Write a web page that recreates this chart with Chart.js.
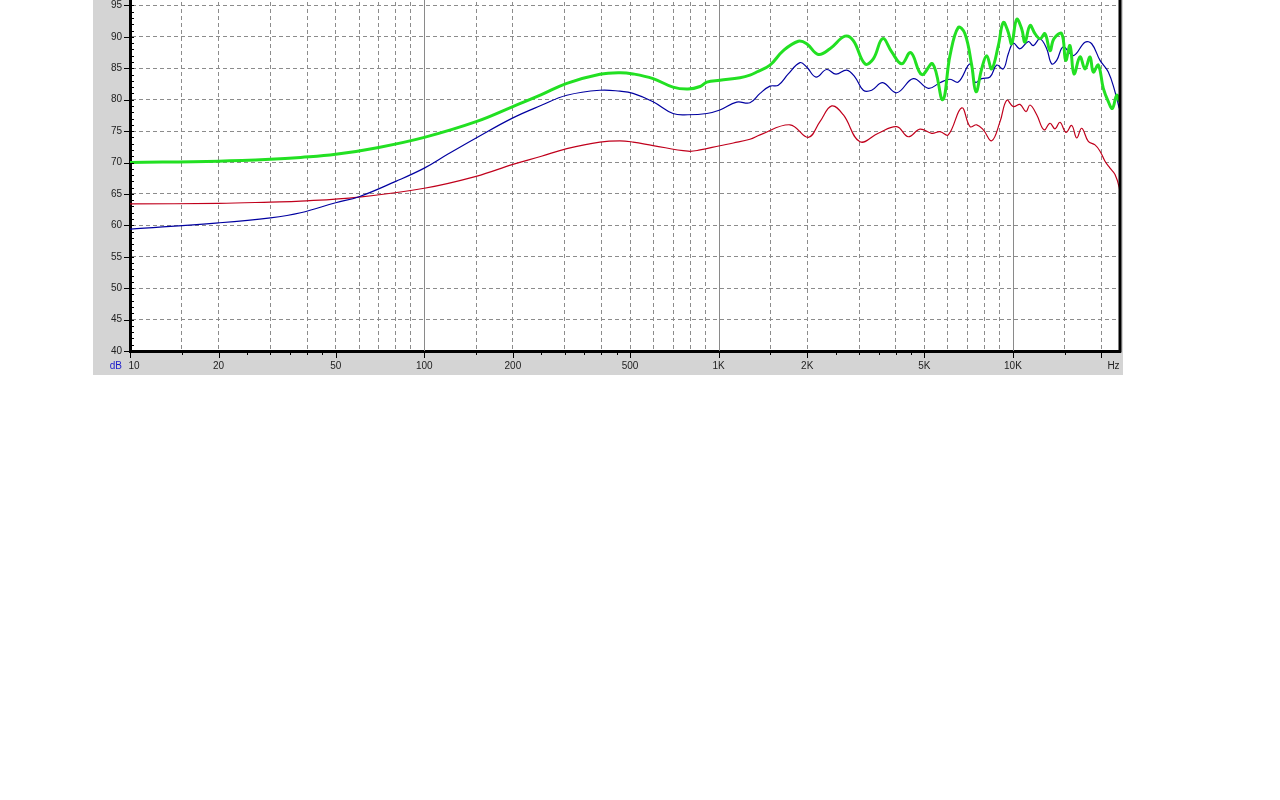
<!DOCTYPE html>
<html>
<head>
<meta charset="utf-8">
<script src="https://cdn.jsdelivr.net/npm/chart.js@4.4.1/dist/chart.umd.min.js"></script>
<style>
  html, body { margin: 0; padding: 0; background: #fff; overflow: hidden; }
  #wrap { position: absolute; left: 93px; top: -40px; width: 1030px; height: 415px; background: #d4d4d4; }
</style>
</head>
<body>
<div id="wrap"><canvas id="fr" width="1030" height="415"></canvas></div>
<script>
// frequency response readings (Hz / dB)
const greenHz = [10, 20, 30, 38, 50, 70, 100, 150, 200, 250, 305, 395, 462, 512, 599, 700, 787, 865, 912, 1010, 1182, 1278, 1347, 1495, 1659, 1866, 1992, 2182, 2390, 2688, 2869, 3144, 3355, 3610, 3874, 4190, 4495, 4899, 5340, 5773, 6112, 6523, 6873, 7244, 7492, 7834, 8147, 8472, 8922, 9277, 9647, 9906, 10302, 10713, 10993, 11430, 11887, 12361, 12855, 13367, 13792, 14648, 15114, 15631, 16129, 16904, 17579, 18281, 18759, 19507, 20286, 21095, 21768, 22527, 22988];
const greenDb = [70.0, 70.2, 70.5, 70.8, 71.3, 72.4, 74.0, 76.5, 78.9, 80.8, 82.6, 84.05, 84.3, 84.1, 83.35, 82.0, 81.7, 82.1, 82.8, 83.1, 83.5, 83.9, 84.4, 85.5, 87.8, 89.3, 88.9, 87.2, 88.1, 90.1, 89.4, 85.7, 86.5, 89.7, 87.6, 85.7, 87.5, 84.0, 85.7, 80.0, 87.0, 91.5, 90.5, 85.5, 81.25, 84.9, 87.0, 84.9, 88.6, 92.3, 90.7, 88.9, 92.8, 91.25, 89.15, 91.8, 90.5, 89.7, 90.5, 87.8, 89.7, 90.5, 86.25, 88.6, 84.1, 86.8, 84.9, 86.8, 84.4, 85.5, 81.8, 79.7, 78.6, 80.7, 79.7];

const blueHz = [10, 20, 30, 38, 50, 60, 80, 100, 120, 150, 200, 250, 305, 395, 462, 512, 599, 700, 787, 912, 1010, 1152, 1278, 1383, 1495, 1595, 1725, 1891, 1992, 2142, 2329, 2505, 2724, 2907, 3102, 3313, 3610, 4029, 4587, 5159, 5653, 6112, 6523, 7150, 7434, 7834, 8360, 8810, 9277, 9647, 10032, 10571, 11280, 11729, 12361, 13025, 13544, 14085, 14834, 16040, 17579, 18527, 19770, 21095, 22233, 22988];
const blueDb = [59.4, 60.4, 61.2, 62.0, 63.6, 64.55, 67.0, 69.1, 71.3, 73.9, 77.1, 79.1, 80.7, 81.5, 81.35, 81.0, 79.67, 77.8, 77.6, 77.8, 78.35, 79.6, 79.5, 81.0, 82.15, 82.3, 84.1, 85.9, 85.2, 83.6, 84.8, 84.05, 84.7, 83.6, 81.5, 81.5, 82.7, 81.1, 83.35, 81.8, 82.7, 83.25, 82.8, 85.7, 82.8, 83.35, 83.6, 85.5, 84.9, 87.3, 89.0, 88.1, 89.25, 88.6, 89.7, 88.1, 85.7, 86.25, 88.4, 87.0, 89.15, 88.9, 86.25, 84.4, 81.25, 78.6];

const redHz = [10, 20, 30, 38, 60, 100, 150, 200, 250, 305, 395, 462, 512, 599, 787, 865, 1010, 1122, 1278, 1383, 1748, 2017, 2210, 2423, 2652, 3023, 3488, 4029, 4412, 4834, 5298, 5653, 6031, 6698, 7150, 7534, 7932, 8472, 9042, 9526, 10032, 10571, 11080, 11430, 12047, 12755, 13367, 13901, 14454, 15149, 15842, 16473, 17131, 18039, 19011, 19770, 20558, 21380, 22233, 22988, 23116];
const redDb = [63.4, 63.5, 63.7, 63.85, 64.5, 65.9, 67.8, 69.7, 71.0, 72.2, 73.25, 73.45, 73.25, 72.7, 71.8, 72.0, 72.67, 73.1, 73.7, 74.4, 76.0, 74.0, 76.5, 79.0, 77.6, 73.3, 74.65, 75.7, 74.1, 75.3, 74.65, 74.9, 74.4, 78.7, 75.7, 76.0, 75.2, 73.45, 76.5, 79.9, 78.9, 79.25, 78.1, 79.15, 77.6, 75.2, 76.25, 75.35, 76.4, 74.8, 75.9, 73.9, 75.45, 73.35, 72.8, 71.8, 70.2, 69.1, 68.1, 66.0, 64.6];

const xMin = 10, xMax = 23116;
const yMin = 40, yMax = 100;
// labels drawn by Chart.js at their ticks; "10" and "Hz" sit beside their ticks
const xLabelValues = [20, 50, 100, 200, 500, 1000, 2000, 5000, 10000];
const xLabelTexts = ['20', '50', '100', '200', '500', '1K', '2K', '5K', '10K'];
const mantissas = [1, 1.5, 2, 2.5, 3, 3.5, 4, 4.5, 5, 6, 7, 8, 9];

const gridGray = '#8c8c8c';
const labelFont = '10px "Liberation Sans", Arial, sans-serif';

function mant(v) {
    const d = Math.pow(10, Math.floor(Math.log10(v) + 1e-9));
    return Math.round(v / d * 10) / 10;
}

const xTickValues = [];
for (let d = 10; d <= xMax; d *= 10) {
    mantissas.forEach(m => { if (m * d <= xMax) xTickValues.push(Math.round(m * d)); });
}

const toPts = (hz, db) => hz.map((f, i) => ({ x: f, y: db[i] }));

const framePlugin = {
    id: 'frame',
    beforeDraw(chart) {
        const { ctx, chartArea: a } = chart;
        ctx.save();
        ctx.fillStyle = '#fff';
        ctx.fillRect(a.left, a.top, a.right - a.left, a.bottom - a.top);
        ctx.restore();
    },
    beforeDatasetsDraw(chart) {
        const { ctx, chartArea: a, scales: { x } } = chart;
        ctx.save();
        ctx.strokeStyle = '#8a8a8a';
        ctx.lineWidth = 1;
        [100, 1000, 10000].forEach(v => {
            const px = Math.round(x.getPixelForValue(v)) + 0.5;
            ctx.beginPath();
            ctx.moveTo(px, a.top);
            ctx.lineTo(px, a.bottom);
            ctx.stroke();
        });
        ctx.restore();
    },
    afterDatasetsDraw(chart) {
        const { ctx, chartArea: a, scales: { x, y } } = chart;
        ctx.save();
        ctx.strokeStyle = '#000';
        // right frame
        ctx.lineWidth = 3;
        ctx.beginPath();
        ctx.moveTo(a.right, a.top);
        ctx.lineTo(a.right, a.bottom + 1.5);
        ctx.stroke();
        // y ticks: minor inside, major outside
        ctx.lineWidth = 1;
        for (let v = yMin; v <= yMax; v++) {
            const py = Math.round(y.getPixelForValue(v)) + 0.5;
            ctx.beginPath();
            ctx.moveTo(a.left, py);
            ctx.lineTo(a.left + 4, py);
            if (v % 5 === 0) {
                ctx.moveTo(a.left - 6, py);
                ctx.lineTo(a.left, py);
            }
            ctx.stroke();
        }
        // x ticks below axis
        xTickValues.forEach(v => {
            const m = mant(v);
            if (m > 5) return;
            const px = Math.round(x.getPixelForValue(v)) + 0.5;
            const len = (m === 1 || m === 2 || m === 5) ? 7 : 4;
            ctx.beginPath();
            ctx.moveTo(px, a.bottom);
            ctx.lineTo(px, a.bottom + len);
            ctx.stroke();
        });
        // end labels and unit labels
        ctx.font = labelFont;
        ctx.textBaseline = 'middle';
        ctx.textAlign = 'center';
        ctx.fillStyle = '#222';
        const ly = a.bottom + 15;
        ctx.fillText('10', x.getPixelForValue(10) + 4, ly);
        ctx.fillText('Hz', x.getPixelForValue(20000) + 12, ly);
        ctx.fillStyle = '#1a1acc';
        ctx.textAlign = 'right';
        ctx.fillText('dB', a.left - 8, ly);
        ctx.restore();
    }
};

new Chart(document.getElementById('fr'), {
    type: 'line',
    data: {
        datasets: [
            { data: toPts(greenHz, greenDb), borderColor: '#22e022', borderWidth: 3 },
            { data: toPts(blueHz, blueDb), borderColor: '#0000a0', borderWidth: 1.2 },
            { data: toPts(redHz, redDb), borderColor: '#c0001c', borderWidth: 1.2 }
        ]
    },
    options: {
        responsive: false,
        animation: false,
        events: [],
        layout: { padding: { top: 11, right: 3, left: 0, bottom: 0 } },
        elements: {
            point: { radius: 0 },
            line: { tension: 0.4, fill: false }
        },
        plugins: { legend: { display: false }, tooltip: { enabled: false } },
        scales: {
            x: {
                type: 'logarithmic',
                min: xMin,
                max: xMax,
                afterBuildTicks: s => { s.ticks = xTickValues.map(v => ({ value: v })); },
                afterFit: s => { s.height = 24; },
                ticks: {
                    autoSkip: false,
                    maxRotation: 0,
                    padding: 9,
                    color: '#222',
                    font: { family: '"Liberation Sans", Arial, sans-serif', size: 10 },
                    callback: v => {
                        const i = xLabelValues.indexOf(v);
                        return i >= 0 ? xLabelTexts[i] : '';
                    }
                },
                grid: {
                    drawTicks: false,
                    color: c => {
                        const m = mant(c.tick.value);
                        return (m === 1 || m === 2.5 || m === 3.5 || m === 4.5) ? 'rgba(0,0,0,0)' : gridGray;
                    }
                },
                border: { color: '#000', width: 3, dash: [4, 3] }
            },
            y: {
                min: yMin,
                max: yMax,
                afterBuildTicks: s => {
                    const t = [];
                    for (let v = yMin; v <= yMax; v++) t.push({ value: v });
                    s.ticks = t;
                },
                afterFit: s => { s.width = 37; },
                ticks: {
                    autoSkip: false,
                    padding: 8,
                    color: '#222',
                    font: { family: '"Liberation Sans", Arial, sans-serif', size: 10 },
                    callback: v => (v % 5 === 0 ? String(v) : '')
                },
                grid: {
                    drawTicks: false,
                    color: c => (c.tick.value % 5 === 0 ? gridGray : 'rgba(0,0,0,0)')
                },
                border: { color: '#000', width: 3, dash: [4, 3] }
            }
        }
    },
    plugins: [framePlugin]
});
</script>
</body>
</html>
